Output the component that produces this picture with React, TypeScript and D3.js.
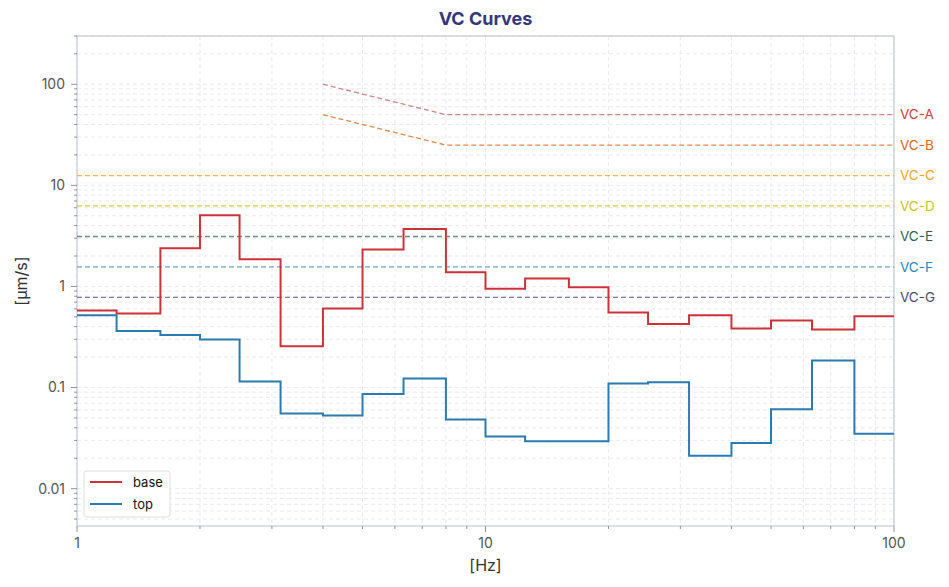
import React from 'react';
import * as d3 from 'd3';

// 1/3 octave band edges, each value holds from its edge to the next
const bandEdges = [1, 1.25, 1.6, 2, 2.5, 3.15, 4, 5, 6.3, 8, 10, 12.5, 16, 20, 25, 31.5, 40, 50, 63, 80, 100];
const baseValues = [0.578, 0.54, 2.38, 5.05, 1.86, 0.256, 0.605, 2.32, 3.69, 1.38, 0.946, 1.2, 0.98, 0.553, 0.424, 0.52, 0.384, 0.46, 0.375, 0.508];
const topValues = [0.52, 0.363, 0.33, 0.299, 0.115, 0.0553, 0.0528, 0.0865, 0.123, 0.0482, 0.0327, 0.0294, 0.0294, 0.1096, 0.113, 0.0212, 0.0283, 0.061, 0.185, 0.035];

const vcNames = ['VC-A', 'VC-B', 'VC-C', 'VC-D', 'VC-E', 'VC-F', 'VC-G'];
const vcLevels = [50, 25, 12.5, 6.25, 3.12, 1.56, 0.78];
const vcLow = [100, 50, null, null, null, null, null]; // value at 4 Hz for the sloped ones
const vcLineColors = ['#d18486', '#e08a4c', '#f2b057', '#dccb3c', '#6f8f85', '#6aa5cc', '#857c98'];
const vcTextColors = ['#c8403f', '#d9641e', '#ef9f2a', '#c9c21c', '#2f5f4f', '#2b83c0', '#4a4a66'];

const yTicks = [0.01, 0.1, 1, 10, 100];
const xTicks = [1, 10, 100];

const W = 949;
const H = 587;
const margin = { top: 36, right: 55, bottom: 61, left: 77 };

const series = [
  { name: 'base', values: baseValues, color: '#cc3338' },
  { name: 'top', values: topValues, color: '#2b7bb0' },
];

export default function App() {
  const x = d3.scaleLog().domain([1, 100]).range([margin.left, W - margin.right]);
  const y = d3.scaleLog().domain([0.00427, 300]).range([H - margin.bottom, margin.top]);
  const [x0, x1] = x.range();
  const [y0, y1] = y.range();

  const minorY: number[] = [];
  for (let e = -3; e <= 2; e++) {
    for (let k = 1; k <= 9; k++) {
      const v = k * Math.pow(10, e);
      if (v >= 0.00427 && v <= 300) minorY.push(v);
    }
  }
  const minorX: number[] = [];
  for (let e = 0; e <= 1; e++) {
    for (let k = 1; k <= 9; k++) minorX.push(k * Math.pow(10, e));
  }
  minorX.push(100);

  const stepLine = (vals: number[]) => {
    const pts: [number, number][] = [];
    vals.forEach((v, i) => {
      pts.push([bandEdges[i], v]);
      pts.push([bandEdges[i + 1], v]);
    });
    return d3
      .line<[number, number]>()
      .x((d) => x(d[0]))
      .y((d) => y(d[1]))(pts) as string;
  };

  const vcPath = (i: number) => {
    const low = vcLow[i];
    const pts: [number, number][] = low
      ? [[4, low], [8, vcLevels[i]], [100, vcLevels[i]]]
      : [[1, vcLevels[i]], [100, vcLevels[i]]];
    return d3
      .line<[number, number]>()
      .x((d) => x(d[0]))
      .y((d) => y(d[1]))(pts) as string;
  };

  const font = 'Inter, "DejaVu Sans", sans-serif';

  return (
    <svg width={W} height={H} style={{ position: 'absolute', left: 0, top: 0 }} fontFamily={font}>
      <rect width={W} height={H} fill="#fff" />
      <text x={(x0 + x1) / 2} y={25} textAnchor="middle" fontSize={18} fontWeight={700} fill="#36367c">
        VC Curves
      </text>

      {/* grid */}
      <g stroke="#e6e6ec" strokeWidth={0.9} strokeDasharray="4,3">
        {minorY.map((v) => (
          <line key={'gy' + v} x1={x0} x2={x1} y1={y(v)} y2={y(v)} />
        ))}
        {minorX.map((v) => (
          <line key={'gx' + v} x1={x(v)} x2={x(v)} y1={y1} y2={y0} />
        ))}
      </g>

      {/* frame */}
      <rect x={x0} y={y1} width={x1 - x0} height={y0 - y1} fill="none" stroke="#c4c7d8" strokeWidth={1.2} />

      {/* ticks */}
      <g stroke="#777" strokeWidth={0.8}>
        {minorY.map((v) => (
          <line key={'ty' + v} x1={x0} x2={x0 - (yTicks.includes(v) ? 6 : 3)} y1={y(v)} y2={y(v)} />
        ))}
        {minorX.map((v) => (
          <line key={'tx' + v} x1={x(v)} x2={x(v)} y1={y0} y2={y0 + (xTicks.includes(v) ? 6 : 3)} />
        ))}
      </g>
      <g fontSize={14} fill="#555">
        {yTicks.map((v) => (
          <text key={'ly' + v} x={x0 - 12} y={y(v)} dy="0.35em" textAnchor="end">
            {String(v)}
          </text>
        ))}
        {xTicks.map((v) => (
          <text key={'lx' + v} x={x(v)} y={y0 + 22} textAnchor="middle">
            {String(v)}
          </text>
        ))}
      </g>
      <text x={(x0 + x1) / 2} y={571} textAnchor="middle" fontSize={16} fill="#333">
        [Hz]
      </text>
      <text transform={`translate(27,${(y0 + y1) / 2}) rotate(-90)`} textAnchor="middle" fontSize={16} fill="#333">
        [μm/s]
      </text>

      {/* VC criteria */}
      {vcNames.map((name, i) => (
        <g key={name}>
          <path d={vcPath(i)} fill="none" stroke={vcLineColors[i]} strokeWidth={1.3} strokeDasharray="5,3" />
          <text x={x1 + 6} y={y(vcLevels[i])} dy="0.35em" fontSize={13.5} fill={vcTextColors[i]}>
            {name}
          </text>
        </g>
      ))}

      {/* measured curves */}
      {series.map((s) => (
        <path key={s.name} d={stepLine(s.values)} fill="none" stroke={s.color} strokeWidth={2} />
      ))}

      {/* legend */}
      <g transform={`translate(${x0 + 7},${471})`}>
        <rect width={86} height={46} rx={3} fill="#fff" fillOpacity={0.9} stroke="#ddd" />
        {series.map((s, i) => (
          <g key={s.name} transform={`translate(6,${11 + i * 22})`}>
            <line x1={0} x2={32} stroke={s.color} strokeWidth={2} />
            <text x={43} dy="0.35em" fontSize={13} fill="#111">
              {s.name}
            </text>
          </g>
        ))}
      </g>
    </svg>
  );
}
